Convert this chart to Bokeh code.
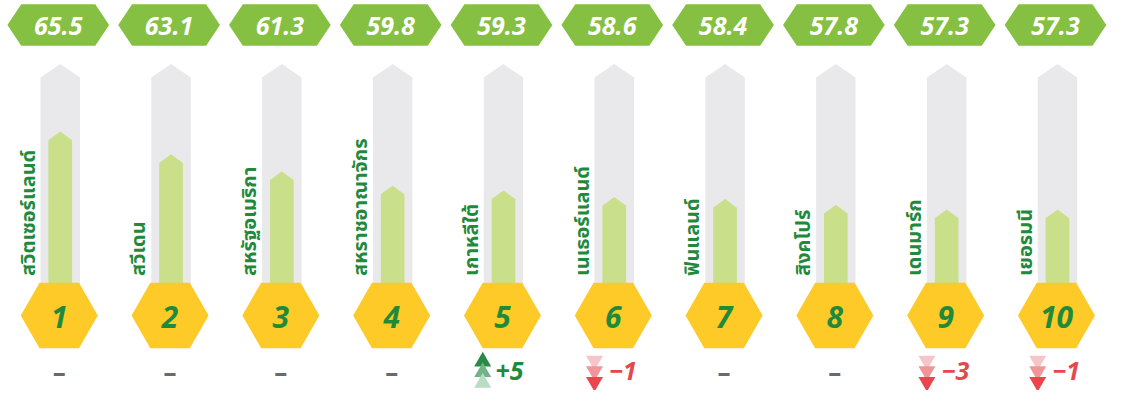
import math
from bokeh.plotting import figure
from bokeh.models import Range1d, ColumnDataSource
from bokeh.core.properties import value
from bokeh.embed import file_html
from bokeh.resources import INLINE

# ---- data ----
countries = ["สวิตเซอร์แลนด์", "สวีเดน", "สหรัฐอเมริกา", "สหราชอาณาจักร", "เกาหลีใต้",
             "เนเธอร์แลนด์", "ฟินแลนด์", "สิงคโปร์", "เดนมาร์ก", "เยอรมนี"]
scores = [65.5, 63.1, 61.3, 59.8, 59.3, 58.6, 58.4, 57.8, 57.3, 57.3]
score_labels = ["65.5", "63.1", "61.3", "59.8", "59.3", "58.6", "58.4", "57.8", "57.3", "57.3"]
ranks = [1, 2, 3, 4, 5, 6, 7, 8, 9, 10]
changes = [0, 0, 0, 0, 5, -1, 0, 0, -3, -1]

# ---- layout / style ----
W, H = 1109, 390
X0, DX = 61.5, 112.2
centers = [X0 + DX * i for i in range(len(countries))]

GREEN_HEX = "#86c042"
YELLOW = "#fdca28"
GRAY_BAR = "#e9e9eb"
GREEN_BAR = "#c9df8a"
DARK_GREEN = "#1f8a3c"
RED = "#e4474d"

p = figure(width=W, height=H, output_backend="svg", toolbar_location=None,
           x_range=Range1d(1, 1124), y_range=Range1d(406, 1),
           min_border=0, outline_line_color=None, background_fill_color="white",
           border_fill_color="white")
p.axis.visible = False
p.grid.visible = False
# value scale for the bars (reference px 137 <-> 65.5, 9.88 px per unit)
p.extra_y_ranges = {"val": Range1d(38.27, 79.27)}

# top score hexagons
hx, hy = [], []
for c in centers:
    cx = c - 2
    hx.append([cx - 51.5, cx - 37.5, cx + 37.5, cx + 51.5, cx + 37.5, cx - 37.5])
    hy.append([26.5, 5, 5, 26.5, 48, 48])
p.patches(hx, hy, fill_color=GREEN_HEX, line_color=None)
p.text([c - 2 for c in centers], [27.5] * len(centers), text=score_labels,
       text_font=value("Open Sans"), text_font_style="bold italic", text_font_size="25px",
       text_color="white", text_align="center", text_baseline="middle")

# gray background arrows
gx, gy = [], []
for c in centers:
    gx.append([c - 20, c, c + 20, c + 20, c - 20])
    gy.append([81, 67, 81, 300, 300])
p.patches(gx, gy, fill_color=GRAY_BAR, line_color=None)

# green value arrows (through value scale)
TIP = 0.91
BASE = 48.0
bx, by = [], []
for c, v in zip(centers, scores):
    bx.append([c - 12, c, c + 12, c + 12, c - 12])
    by.append([v - TIP, v, v - TIP, BASE, BASE])
p.patches(bx, by, fill_color=GREEN_BAR, line_color=None, y_range_name="val")

# country names (rotated)
p.text([c - 32 for c in centers], [287] * len(centers), text=countries,
       angle=math.pi / 2, text_font=value("Noto Sans Thai"), text_font_style="bold",
       text_font_size="20px", text_color=DARK_GREEN, text_align="left",
       text_baseline="alphabetic")

# rank hexagons
rx, ry = [], []
for c in centers:
    cx = c - 1
    rx.append([cx - 39, cx - 20, cx + 20, cx + 39, cx + 20, cx - 20])
    ry.append([328, 294, 294, 328, 362, 362])
p.patches(rx, ry, fill_color=YELLOW, line_color=None)
p.text([c - 1 for c in centers], [330] * len(centers), text=[str(r) for r in ranks],
       text_font=value("Open Sans"), text_font_style="bold italic", text_font_size="30px",
       text_color=DARK_GREEN, text_align="center", text_baseline="middle")

# change indicators
dash_x = [c - 1 for c, ch in zip(centers, changes) if ch == 0]
p.text(dash_x, [387] * len(dash_x), text=["–"] * len(dash_x),
       text_font=value("Open Sans"), text_font_style="bold", text_font_size="26px",
       text_color="#6a6a6a", text_align="center", text_baseline="middle")

up_cols = ["#2a8a45", "#72b487", "#b9dcc2"]
down_cols = ["#f6c5c7", "#f09699", "#e8474d"]
tx, ty, tc, tm = [], [], [], []
lx, ly, lt, lc = [], [], [], []
for c, ch in zip(centers, changes):
    if ch > 0:
        for k, yy in enumerate([376, 387, 398]):
            tx.append(c - 21); ty.append(yy); tc.append(up_cols[k]); tm.append("triangle")
        lx.append(c - 8); ly.append(386); lt.append("+%d" % ch); lc.append(DARK_GREEN)
    elif ch < 0:
        for k, yy in enumerate([375, 386, 397]):
            tx.append(c - 20); ty.append(yy); tc.append(down_cols[k]); tm.append("inverted_triangle")
        lx.append(c - 5); ly.append(386); lt.append("\u2212%d" % (-ch)); lc.append(RED)
src = ColumnDataSource(dict(x=tx, y=ty, c=tc, m=tm))
p.scatter("x", "y", source=src, marker="m", size=17, fill_color="c", line_color=None)
p.text(lx, ly, text=lt, text_color=lc, text_font=value("Open Sans"),
       text_font_style="bold italic", text_font_size="25px",
       text_align="left", text_baseline="middle")

open("out.html", "w").write(file_html(p, INLINE))
